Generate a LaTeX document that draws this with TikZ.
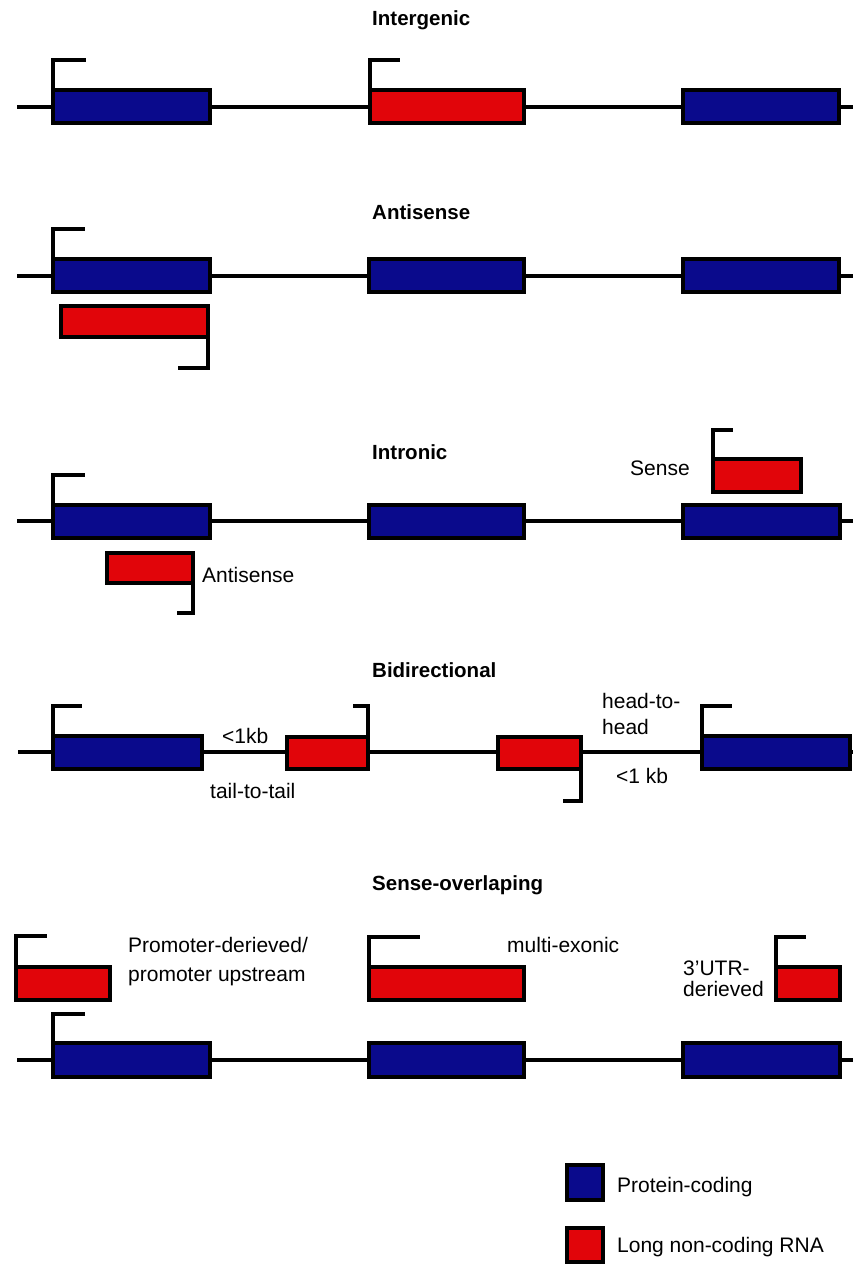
\documentclass[tikz,border=0pt]{standalone}
\usepackage{fontspec}
\setmainfont{Liberation Sans}
\definecolor{pcblue}{RGB}{10,10,140}
\definecolor{lncred}{RGB}{225,5,10}
\begin{document}
\begin{tikzpicture}[x=1pt,y=-1pt,
  exon/.style={draw=black, line width=3.2pt, rectangle, inner sep=0pt, outer sep=0pt, anchor=north west},
  pc/.style={exon, fill=pcblue},
  lnc/.style={exon, fill=lncred},
  backbone/.style={line width=3.2pt},
  tss/.style={line width=3.2pt},
  title/.style={anchor=base west, inner sep=0pt, font=\fontsize{20.5}{24}\selectfont\bfseries},
  lbl/.style={anchor=base west, inner sep=0pt, font=\fontsize{21}{25}\selectfont}]
\useasboundingbox[fill=white] (0,0) rectangle (853,1264);

% ---------- Intergenic ----------
\node[title] (t1) at (372,25) {Intergenic};
\coordinate (a1) at (17,107);
\coordinate (b1) at (853,107);
\draw[backbone] (a1) -- (b1);
\node[pc,  minimum width=157, minimum height=33] (g11) at (53,90) {};
\node[lnc, minimum width=154, minimum height=33] (g12) at (370,90) {};
\node[pc,  minimum width=156, minimum height=33] (g13) at (683,90) {};
\draw[tss] (g11.north west) -- ++(0,-30) -- ++(33,0);
\draw[tss] (g12.north west) -- ++(0,-30) -- ++(30,0);

% ---------- Antisense ----------
\node[title] (t2) at (372,219) {Antisense};
\coordinate (a2) at (17,276);
\coordinate (b2) at (853,276);
\draw[backbone] (a2) -- (b2);
\node[pc,  minimum width=157, minimum height=33] (g21) at (53,259) {};
\node[pc,  minimum width=155, minimum height=33] (g22) at (369,259) {};
\node[pc,  minimum width=156, minimum height=33] (g23) at (683,259) {};
\node[lnc, minimum width=147, minimum height=31] (g24) at (61,306) {};
\draw[tss] (g21.north west) -- ++(0,-30) -- ++(32,0);
\draw[tss] (g24.south east) -- ++(0,31) -- ++(-30,0);

% ---------- Intronic ----------
\node[title] (t3) at (372,459) {Intronic};
\coordinate (a3) at (17,521);
\coordinate (b3) at (853,521);
\draw[backbone] (a3) -- (b3);
\node[pc,  minimum width=157, minimum height=33] (g31) at (53,505) {};
\node[pc,  minimum width=155, minimum height=33] (g32) at (369,505) {};
\node[pc,  minimum width=157, minimum height=33] (g33) at (683,505) {};
\node[lnc, minimum width=88, minimum height=33] (g34) at (713,459) {};
\node[lnc, minimum width=86, minimum height=30] (g35) at (107,553) {};
\draw[tss] (g31.north west) -- ++(0,-30) -- ++(32,0);
\draw[tss] (g34.north west) -- ++(0,-29) -- ++(20,0);
\draw[tss] (g35.south east) -- ++(0,30) -- ++(-16,0);
\node[lbl] (s3) at (630,475) {Sense};
\node[lbl] (as3) at (202,582) {Antisense};

% ---------- Bidirectional ----------
\node[title] (t4) at (372,677) {Bidirectional};
\coordinate (a4) at (18,752);
\coordinate (b4) at (853,752);
\draw[backbone] (a4) -- (b4);
\node[pc,  minimum width=149, minimum height=33] (g41) at (53,736) {};
\node[lnc, minimum width=81, minimum height=32] (g42) at (287,737) {};
\node[lnc, minimum width=83, minimum height=32] (g43) at (498,737) {};
\node[pc,  minimum width=148, minimum height=33] (g44) at (702,736) {};
\draw[tss] (g41.north west) -- ++(0,-30) -- ++(29,0);
\draw[tss] (g42.north east) -- ++(0,-31) -- ++(-15,0);
\draw[tss] (g43.south east) -- ++(0,32) -- ++(-18,0);
\draw[tss] (g44.north west) -- ++(0,-30) -- ++(30,0);
\node[lbl] (k1) at (222,743) {<1kb};
\node[lbl] (tt) at (210,798) {tail-to-tail};
\node[lbl] (hh1) at (602,708) {head-to-};
\node[lbl] (hh2) at (602,734) {head};
\node[lbl] (k2) at (616,783) {<1 kb};

% ---------- Sense-overlaping ----------
\node[title] (t5) at (372,890) {Sense-overlaping};
\coordinate (a5) at (17,1060);
\coordinate (b5) at (853,1060);
\draw[backbone] (a5) -- (b5);
\node[pc,  minimum width=157, minimum height=34] (g51) at (53,1043) {};
\node[pc,  minimum width=155, minimum height=34] (g52) at (369,1043) {};
\node[pc,  minimum width=157, minimum height=34] (g53) at (683,1043) {};
\node[lnc, minimum width=94, minimum height=33] (g54) at (16,967) {};
\node[lnc, minimum width=155, minimum height=33] (g55) at (369,967) {};
\node[lnc, minimum width=64, minimum height=33] (g56) at (776,967) {};
\draw[tss] (g51.north west) -- ++(0,-29) -- ++(32,0);
\draw[tss] (g54.north west) -- ++(0,-31) -- ++(31,0);
\draw[tss] (g55.north west) -- ++(0,-30) -- ++(51,0);
\draw[tss] (g56.north west) -- ++(0,-30) -- ++(30,0);
\node[lbl] (pd1) at (128,952) {Promoter-derieved/};
\node[lbl] (pd2) at (128,981) {promoter upstream};
\node[lbl] (me) at (507,952) {multi-exonic};
\node[lbl] (ut1) at (683,975) {3'UTR-};
\node[lbl] (ut2) at (683,996) {derieved};

% ---------- Legend ----------
\node[pc,  minimum width=36, minimum height=35] (kpc) at (567,1165) {};
\node[lnc, minimum width=36, minimum height=34] (kln) at (567,1228) {};
\node[lbl] (kpct) at (617,1192) {Protein-coding};
\node[lbl] (klnt) at (617,1252) {Long non-coding RNA};
\end{tikzpicture}
\end{document}
